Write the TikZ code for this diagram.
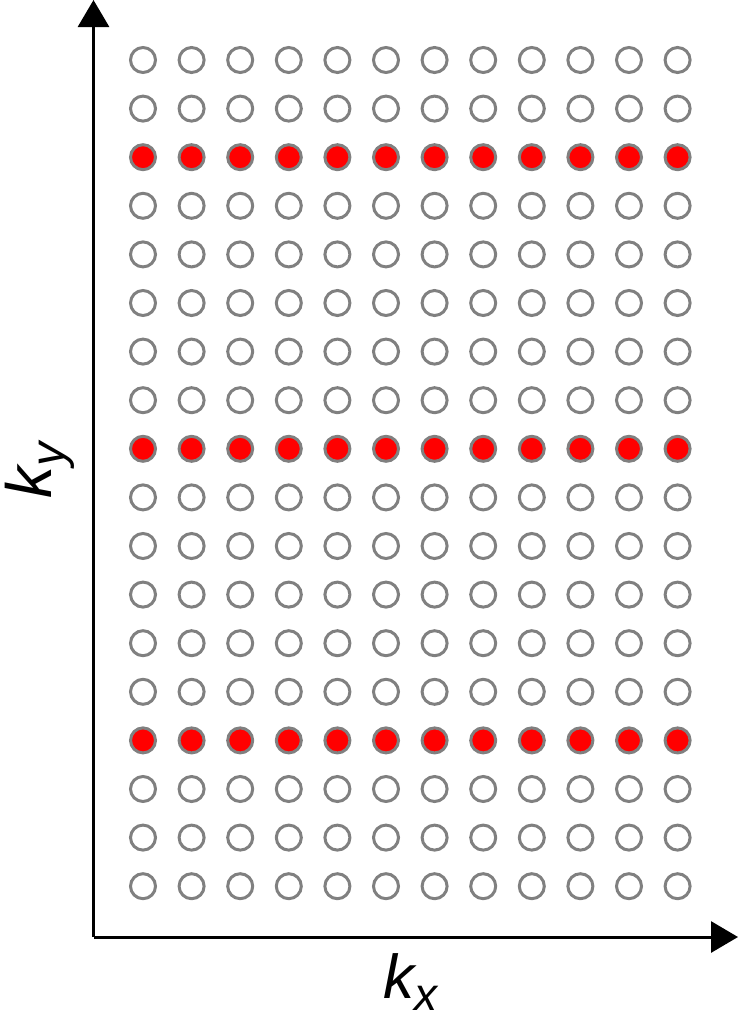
\documentclass[tikz,border=0pt]{standalone}
\usepackage{fontspec}
\setmainfont{Liberation Sans}
\usepackage{tikz}
\usetikzlibrary{arrows.meta,positioning}
\definecolor{ringgray}{RGB}{128,128,128}
\definecolor{hitred}{RGB}{255,0,0}

\begin{document}
\begin{tikzpicture}[x=1pt,y=-1pt,>={Triangle[length=27pt,width=31pt]}]
      \useasboundingbox (0,0) rectangle (738,1020);
      % axes
      \coordinate (origin) at (93.5,937);
      \coordinate (ytop) at (93.5,0);
      \coordinate (xend) at (738,937);
      \draw[->,line width=3pt] (origin) -- (ytop);
      \draw[->,line width=3pt] (origin) -- (xend);
      % sampling grid: 12 x 18 points, every sixth line acquired
      \foreach \j in {0,...,17}{
        \foreach \i in {0,...,11}{
          \pgfmathsetmacro\cx{143+48.6*\i}
          \pgfmathsetmacro\cy{60+48.6*\j}
          \ifnum\j=2 \def\fc{hitred}\else\ifnum\j=8 \def\fc{hitred}\else
            \ifnum\j=14 \def\fc{hitred}\else\def\fc{white}\fi\fi\fi
          \draw[ringgray,line width=3pt,fill=\fc] (\cx,\cy) circle (12.5pt);
        }
      }
      \node[font=\fontsize{62}{70}\selectfont\itshape,inner sep=1pt] (kx) at (410,982)
            {k\raisebox{-0.2em}{\fontsize{46}{50}\selectfont x}};
      \node[font=\fontsize{64}{70}\selectfont\itshape,rotate=90] (ky) at (40,470)
            {k\raisebox{-0.2em}{\fontsize{48}{50}\selectfont y}};
    \end{tikzpicture}
\end{document}
